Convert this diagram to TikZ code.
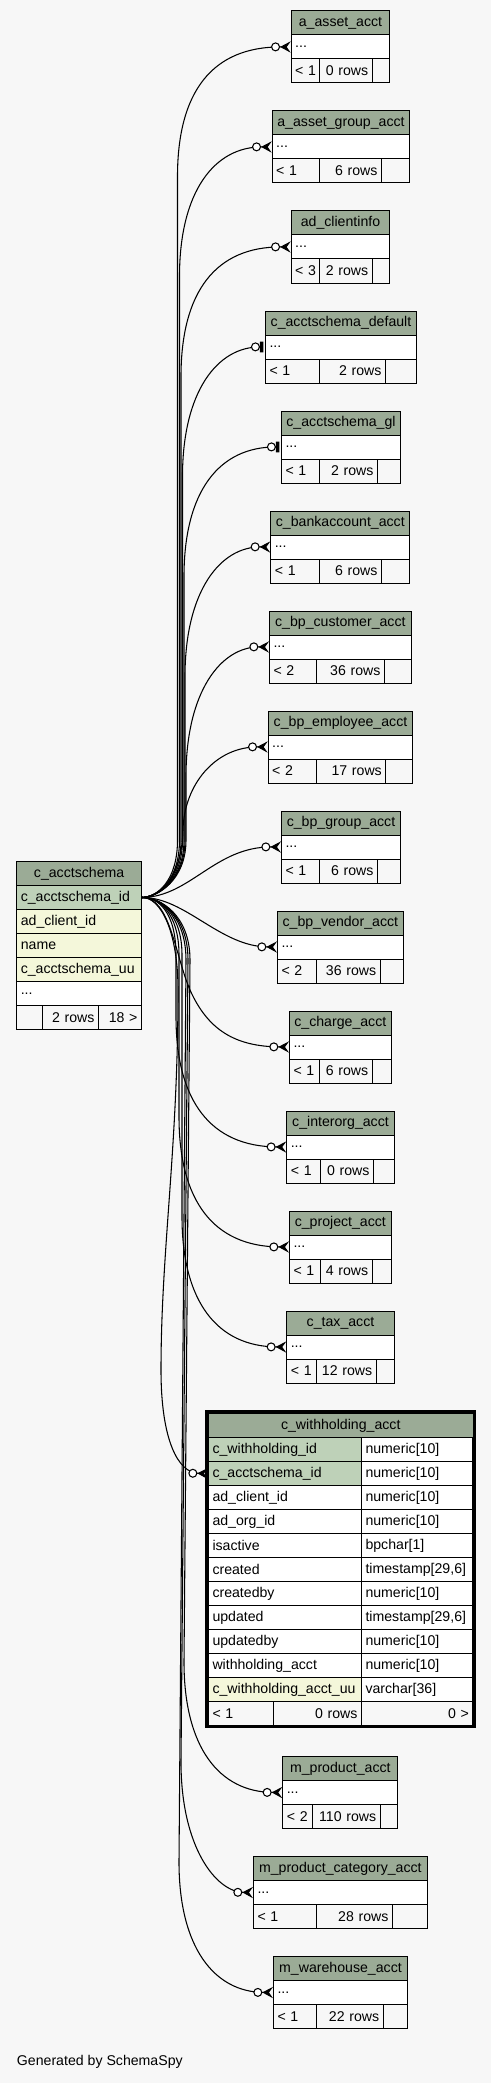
\documentclass[tikz,border=0pt]{standalone}
\usepackage{fontspec}
\setmainfont{Liberation Sans}
\usetikzlibrary{arrows.meta, positioning}
\usepackage{xcolor}
\definecolor{hdrgreen}{HTML}{9BAB96}
\definecolor{pkgreen}{HTML}{BED1B8}
\definecolor{idxyellow}{HTML}{F4F7DA}
\definecolor{pagegray}{HTML}{F7F7F7}

\tikzset{
  cell/.style={draw=black, line width=0.75pt, rectangle, inner xsep=3pt, inner ysep=0pt,
    minimum height=18pt, font=\fontsize{10.6pt}{12pt}\selectfont},
  hdr/.style={cell, fill=hdrgreen},
  plain/.style={cell, fill=white},
  foot/.style={cell, fill=pagegray},
  pk/.style={cell, fill=pkgreen},
  idx/.style={cell, fill=idxyellow},
  txtl/.style={text width=#1, align=left},
  txtr/.style={text width=#1, align=right},
  fk/.style={line width=0.8pt},
  many/.style={fk, -{Circle[fill=white, length=6.75pt] Stealth[reversed, length=8pt, width=8.5pt, inset=3pt]}},
  one/.style={fk, shorten >=1.2pt, -{Circle[fill=white, length=6.75pt] Rectangle[length=2.6pt, width=8pt]}},
}

\begin{document}
\begin{tikzpicture}[x=0.75pt, y=-0.75pt]
  \fill[pagegray] (0,0) rectangle (491,2083);

  % referencing tables
  \foreach \tabid/\tabtitle/\xl/\xr/\ytop/\lefttxt/\rowtxt/\xa/\xb in {
      aasset/a\_asset\_acct/290.7/389.3/10.5/< 1/0 rows/319.3/371.7,
      aassetgroup/a\_asset\_group\_acct/271.7/409.3/110.5/< 1/6 rows/319.3/381,
      clientinfo/ad\_clientinfo/290.7/389.3/210.5/< 3/2 rows/319.3/371.7,
      schemadefault/c\_acctschema\_default/265/416/310.5/< 1/2 rows/319.3/385,
      schemagl/c\_acctschema\_gl/281/400/410.5/< 1/2 rows/319.3/377,
      bankaccount/c\_bankaccount\_acct/270.3/409.3/510.5/< 1/6 rows/319.3/381,
      bpcustomer/c\_bp\_customer\_acct/269/410.7/610.5/< 2/36 rows/315.7/384,
      bpemployee/c\_bp\_employee\_acct/267.7/412.3/710.5/< 2/17 rows/315.7/385.3,
      bpgroup/c\_bp\_group\_acct/281/400/810.5/< 1/6 rows/319.3/377,
      bpvendor/c\_bp\_vendor\_acct/277/402.7/910.5/< 2/36 rows/315.7/379.7,
      charge/c\_charge\_acct/289/390.7/1010.5/< 1/6 rows/319.3/371.7,
      interorg/c\_interorg\_acct/286.3/393.7/1110.5/< 1/0 rows/319.7/373,
      project/c\_project\_acct/289/390.7/1210.5/< 1/4 rows/319.7/371.7,
      tax/c\_tax\_acct/286.3/393.7/1310.5/< 1/12 rows/315.7/375.7,
      mproduct/m\_product\_acct/282.3/397.3/1756/< 2/110 rows/311.7/379.7,
      mprodcat/m\_product\_category\_acct/253/426.7/1856/< 1/28 rows/315.7/392,
      mwarehouse/m\_warehouse\_acct/273/407/1956/< 1/22 rows/315.7/382.7}
  {
    \pgfmathsetmacro{\wfull}{(\xr-\xl)*0.75}
    \pgfmathsetmacro{\tfull}{\wfull-6}
    \pgfmathsetmacro{\tleft}{(\xa-\xl)*0.75-6}
    \pgfmathsetmacro{\tmid}{(\xb-\xa)*0.75-6}
    \pgfmathsetmacro{\wright}{(\xr-\xb)*0.75}
    \node[hdr, anchor=north west, minimum width=\wfull pt] (\tabid) at (\xl,\ytop) {\tabtitle};
    \node[plain, anchor=north west, txtl=\tfull pt] (\tabid-row) at (\xl,\ytop+24) {...};
    \node[foot, anchor=north west, txtl=\tleft pt] (\tabid-lt) at (\xl,\ytop+48) {\mbox{\lefttxt}};
    \node[foot, anchor=north west, txtr=\tmid pt] (\tabid-rows) at (\xa,\ytop+48) {\mbox{\rowtxt}};
    \node[foot, anchor=north west, minimum width=\wright pt] (\tabid-gt) at (\xb,\ytop+48) {};
  }

  % c_acctschema
  \node[hdr, anchor=north west, minimum width=93.5pt] (acctschema) at (16.3,861) {c\_acctschema};
  \node[pk, anchor=north west, txtl=87.5pt] (acctschemaid) at (16.3,885) {c\_acctschema\_id};
  \node[idx, anchor=north west, txtl=87.5pt] (clientid) at (16.3,909) {ad\_client\_id};
  \node[idx, anchor=north west, txtl=87.5pt] (schemaname) at (16.3,933) {name};
  \node[idx, anchor=north west, txtl=87.5pt] (schemauu) at (16.3,957) {c\_acctschema\_uu};
  \node[plain, anchor=north west, txtl=87.5pt] (schemamore) at (16.3,981) {...};
  \node[foot, anchor=north west, minimum width=19.3pt] (schema-lt) at (16.3,1005) {};
  \node[foot, anchor=north west, txtr=36pt] (schema-rows) at (42,1005) {2 rows};
  \node[foot, anchor=north west, txtr=26.25pt] (schema-gt) at (98,1005) {18 >};

  % c_withholding_acct
  \node[hdr, anchor=north west, minimum width=198.4pt] (withhold) at (208,1413) {c\_withholding\_acct};
  \foreach \colname/\coltype/\colstyle [count=\k from 0] in {
      c\_withholding\_id/{numeric[10]}/pk,
      c\_acctschema\_id/{numeric[10]}/pk,
      ad\_client\_id/{numeric[10]}/plain,
      ad\_org\_id/{numeric[10]}/plain,
      isactive/{bpchar[1]}/plain,
      created/{timestamp[29,6]}/plain,
      createdby/{numeric[10]}/plain,
      updated/{timestamp[29,6]}/plain,
      updatedby/{numeric[10]}/plain,
      withholding\_acct/{numeric[10]}/plain,
      c\_withholding\_acct\_uu/{varchar[36]}/idx}
  {
    \node[\colstyle, anchor=north west, txtl=108.75pt] (withhold-\k) at (208,1437+24*\k) {\colname};
    \node[plain, anchor=north west, txtl=77.6pt] (withhold-type-\k) at (361,1437+24*\k) {\coltype};
  }
  \node[foot, anchor=north west, txtl=42.75pt] (withhold-lt) at (208,1701) {< 1};
  \node[foot, anchor=north west, txtr=60pt] (withhold-rows) at (273,1701) {0 rows};
  \node[foot, anchor=north west, txtr=77.6pt] (withhold-gt) at (361,1701) {0 >};
  \draw[line width=2.25pt] (206.5,1411.5) rectangle (474,1726.5);

  \node[anchor=west, inner sep=0pt, font=\fontsize{10.6pt}{12pt}\selectfont] (credit) at (16.7,2062) {Generated by SchemaSpy};

  % foreign keys going up
  \draw[many] (acctschemaid.east) .. controls (158,897) and (177.5,880) .. (177.5,840) -- (177.5,176.5)
    .. controls (177.5,91.5) and (212.5,46.5) .. (aasset-row.west);
  \draw[many] (acctschemaid.east) .. controls (158,897) and (179.5,880) .. (179.5,840) -- (179.5,276.5)
    .. controls (179.5,191.5) and (214.5,146.5) .. (aassetgroup-row.west);
  \draw[many] (acctschemaid.east) .. controls (158,897) and (181,880) .. (181,840) -- (181,376.5)
    .. controls (181,291.5) and (216,246.5) .. (clientinfo-row.west);
  \draw[one] (acctschemaid.east) .. controls (158,897) and (182.5,880) .. (182.5,840) -- (182.5,476.5)
    .. controls (182.5,391.5) and (217.5,346.5) .. (schemadefault-row.west);
  \draw[one] (acctschemaid.east) .. controls (158,897) and (184,880) .. (184,840) -- (184,576.5)
    .. controls (184,491.5) and (219,446.5) .. (schemagl-row.west);
  \draw[many] (acctschemaid.east) .. controls (158,897) and (185,880) .. (185,840) -- (185,676.5)
    .. controls (185,591.5) and (220,546.5) .. (bankaccount-row.west);
  \draw[many] (acctschemaid.east) .. controls (158,897) and (186,880) .. (186,840) -- (186,776.5)
    .. controls (186,691.5) and (221,646.5) .. (bpcustomer-row.west);
  \draw[many] (acctschemaid.east) .. controls (165,897) and (182,870) .. (183,830)
    .. controls (184,785) and (215,746.5) .. (bpemployee-row.west);
  \draw[many] (acctschemaid.east) .. controls (190,897) and (215,846.5) .. (bpgroup-row.west);

  % foreign keys going down
  \draw[many] (acctschemaid.east) .. controls (185,897) and (220,946.5) .. (bpvendor-row.west);
  \draw[many] (acctschemaid.east) .. controls (170,897) and (175,955) .. (190,990)
    .. controls (208,1030) and (235,1046.5) .. (charge-row.west);
  \draw[many] (acctschemaid.east) .. controls (158,897) and (176,912) .. (176,955) -- (176,1016.5)
    .. controls (176,1101.5) and (211,1146.5) .. (interorg-row.west);
  \draw[many] (acctschemaid.east) .. controls (158,897) and (179,912) .. (179,955) -- (179,1116.5)
    .. controls (179,1201.5) and (214,1246.5) .. (project-row.west);
  \draw[many] (acctschemaid.east) .. controls (158,897) and (182,912) .. (182,955) -- (182,1216.5)
    .. controls (182,1301.5) and (217,1346.5) .. (tax-row.west);
  \draw[many] (acctschemaid.east) .. controls (160,897) and (178,930) .. (178,990)
    .. controls (178,1150) and (161,1250) .. (161,1370)
    .. controls (161,1440) and (178,1473) .. (withhold-1.west);
  \draw[many] (acctschemaid.east) .. controls (160,897) and (190,915) .. (190,960) -- (184,1662)
    .. controls (184,1747) and (219,1792) .. (mproduct-row.west);
  \draw[many] (acctschemaid.east) .. controls (160,897) and (188,915) .. (188,960) -- (181,1762)
    .. controls (181,1847) and (216,1892) .. (mprodcat-row.west);
  \draw[many] (acctschemaid.east) .. controls (160,897) and (186,915) .. (186,960) -- (179,1862)
    .. controls (179,1947) and (214,1992) .. (mwarehouse-row.west);
\end{tikzpicture}
\end{document}
